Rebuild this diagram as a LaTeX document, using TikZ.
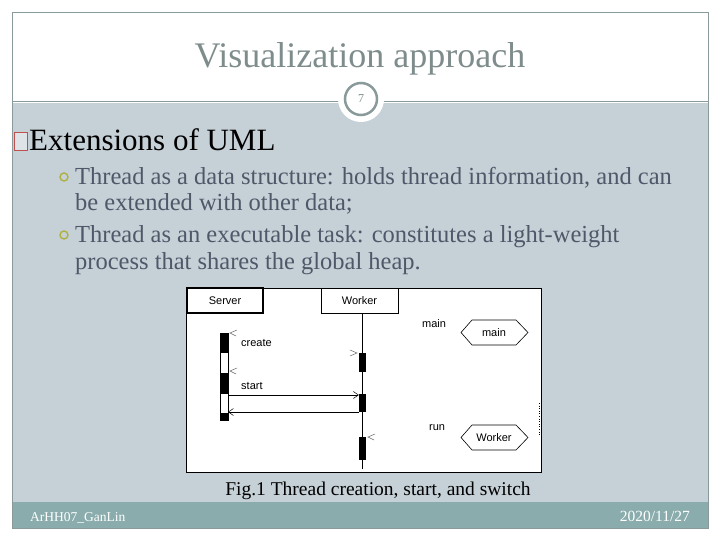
\documentclass[tikz,border=0pt]{standalone}
\usepackage{fontspec}
\setmainfont{Liberation Serif}
\setsansfont{Liberation Sans}
\usetikzlibrary{arrows.meta}
\definecolor{bodycol}{HTML}{C6D0D7}
\definecolor{footcol}{HTML}{8AACAC}
\definecolor{titlecol}{HTML}{7F8C8C}
\definecolor{bordercol}{HTML}{8A9A9A}
\definecolor{textcol}{HTML}{4F5869}
\definecolor{bulcol}{HTML}{B0B040}
\definecolor{boxcol}{HTML}{C0504D}
\tikzset{
  txt/.style={inner sep=0pt, anchor=base west},
  bodytxt/.style={txt, text=textcol, font=\fontsize{24.5}{28}\selectfont},
  bul/.style={circle, draw=bulcol, line width=1.4pt, minimum size=8pt, inner sep=0pt},
  lbl/.style={font=\sffamily\fontsize{11}{13}\selectfont, inner sep=0pt, anchor=base west},
  hdr/.style={draw, font=\sffamily\fontsize{11}{13}\selectfont, inner sep=0pt},
  blk/.style={fill=black, inner sep=0pt, minimum width=7pt},
  openmark/.style={draw=black!60, line width=0.5pt},
  msg/.style={line width=0.6pt, -{Straight Barb[length=5pt,width=7pt,line width=0.5pt]}},
}
\begin{document}
\begin{tikzpicture}[x=1pt,y=-1pt]
\useasboundingbox (0,0) rectangle (720,540);
\fill[white] (0,0) rectangle (720,540);
% slide frame
\fill[bodycol] (12,103) rectangle (708,502);
\fill[footcol] (12,502) rectangle (708,528);
\draw[bordercol, line width=0.8pt] (12,12) rectangle (708,528);
\draw[bordercol, line width=0.8pt] (12,101) -- (708,101);
% slide number badge
\fill[white] (361,99) circle (23);
\node[circle, draw=bordercol, line width=2.5pt, fill=white, minimum size=32pt, inner sep=0pt,
      text=titlecol, font=\fontsize{12}{14}\selectfont] (num) at (361,99) {7};
% title
\node[inner sep=0pt, anchor=base, text=titlecol, font=\fontsize{36}{40}\selectfont] (title) at (360,68) {Visualization approach};
% heading
\node[draw=boxcol, fill=bodycol!60!white, line width=1pt, minimum width=13pt, minimum height=18pt, inner sep=0pt] (sq) at (21,142) {};
\node[txt, font=\fontsize{31}{34}\selectfont] (h1) at (29,151) {Extensions of UML};
% bullets
\node[bul] (b1) at (64,177) {};
\node[bodytxt] (t1) at (75,185) {Thread as a data structure: holds thread information, and can};
\node[bodytxt] (t2) at (75,211) {be extended with other data;};
\node[bul] (b2) at (64,235) {};
\node[bodytxt] (t3) at (75,243) {Thread as an executable task: constitutes a light-weight};
\node[bodytxt] (t4) at (75,269) {process that shares the global heap.};
% figure
\draw[fill=white, line width=0.8pt] (186,288) rectangle (541,472);
\node[hdr, line width=1.6pt, minimum width=76pt, minimum height=25pt] (server) at (225,300.5) {Server};
\node[hdr, line width=0.8pt, minimum width=77pt, minimum height=25pt] (worker) at (359.5,300.5) {Worker};
\coordinate (lifeend) at (362,469);
\draw[line width=0.8pt] (worker.south -| lifeend) -- (lifeend);
% server activation bar
\draw[line width=0.6pt, fill=white] (220,333) rectangle (228,420);
\node[blk, minimum width=8pt, minimum height=20pt] (s1) at (224,343) {};
\node[blk, minimum width=8pt, minimum height=21pt] (s2) at (224,383.5) {};
\node[blk, minimum width=8pt, minimum height=7pt] (s3) at (224,416.5) {};
% worker activation bars
\node[blk, minimum height=19pt] (w1) at (362.5,362.5) {};
\node[blk, minimum height=18pt] (w2) at (362.5,403) {};
\node[blk, minimum height=23pt] (w3) at (362.5,448.5) {};
% messages
\coordinate (sa) at (228,395);
\coordinate (sb) at (228,412);
\draw[msg] (sa) -- (sa -| w2.west);
\draw[msg] (sb -| w2.west) -- (sb);
% open marks
\draw[openmark] (237,330) -- (230,333) -- (236,336);
\draw[openmark] (237,368) -- (230,371) -- (236,374);
\draw[openmark] (350,350) -- (357,353) -- (350,356);
\draw[openmark] (375,434) -- (368,437) -- (374,440);
\node[lbl] (create) at (241,346) {create};
\node[lbl] (start) at (241,389) {start};
\node[lbl] (mainl) at (422,327) {main};
\node[lbl] (runl) at (429,430) {run};
% hexagons
\node[font=\sffamily\fontsize{11}{13}\selectfont, inner sep=0pt] (hm) at (494,332.5) {main};
\draw[line width=0.6pt] (461,332.5) -- (472,320) -- (516,320) -- (528,332.5) -- (516,345) -- (472,345) -- cycle;
\node[font=\sffamily\fontsize{11}{13}\selectfont, inner sep=0pt] (hw) at (494,437.5) {Worker};
\draw[line width=0.6pt] (461,437.5) -- (472,425) -- (516,425) -- (528,437.5) -- (516,450) -- (472,450) -- cycle;
\draw[line width=0.6pt, dotted] (539,403) -- (539,436);
% caption
\node[inner sep=0pt, anchor=base, font=\fontsize{19.5}{22}\selectfont] (cap) at (378,495) {Fig.1 Thread creation, start, and switch};
% footer
\node[txt, text=white, font=\fontsize{13.5}{15}\selectfont] (f1) at (30,521) {ArHH07\_GanLin};
\node[inner sep=0pt, anchor=base east, text=white, font=\fontsize{15.5}{17}\selectfont] (f2) at (690,521) {2020/11/27};
\end{tikzpicture}
\end{document}
